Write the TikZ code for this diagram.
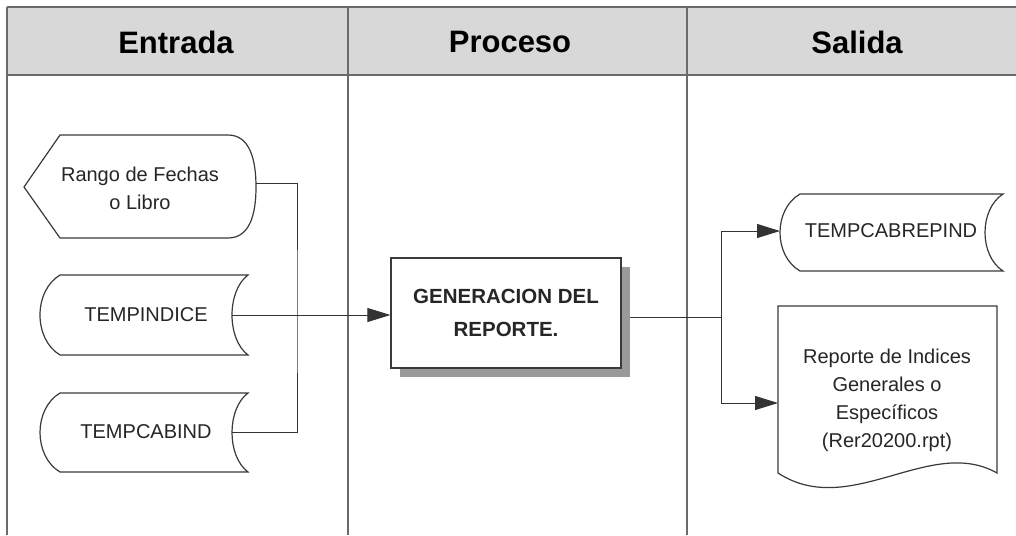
\documentclass[tikz,border=0pt]{standalone}
\usepackage{fontspec}
\setmainfont{Liberation Sans}
\usetikzlibrary{arrows.meta,calc}
\definecolor{hdrgray}{HTML}{D8D8D8}
\definecolor{lanegray}{HTML}{6A6A6A}
\definecolor{shapeline}{HTML}{3A3A3A}
\definecolor{shadowgray}{HTML}{9A9A9A}
\newcommand{\storedpath}[6]{%
  \draw[shp] (#2,#5) -- (#3,#5)
    .. controls ({(4*#4-#3)/3},{#5+0.2*(#6-#5)}) and ({(4*#4-#3)/3},{#6-0.2*(#6-#5)}) .. (#3,#6)
    -- (#2,#6)
    .. controls ({(4*#1-#2)/3},{#6-0.2*(#6-#5)}) and ({(4*#1-#2)/3},{#5+0.2*(#6-#5)}) .. (#2,#5) -- cycle;}
\begin{document}
\begin{tikzpicture}[x=1pt,y=-1pt,
  lane/.style={draw=lanegray,line width=1.4pt},
  hdrline/.style={draw=lanegray,line width=2pt},
  hdr/.style={font=\fontsize{31}{36}\selectfont\bfseries,text=black,inner sep=0pt},
  shp/.style={draw=shapeline,line width=1.2pt,fill=white},
  txt/.style={font=\fontsize{20}{28}\selectfont,align=center,inner sep=0pt,text=black!85},
  btxt/.style={font=\fontsize{20.5}{33}\selectfont\bfseries,align=center,inner sep=0pt,text=black!85},
  conn/.style={draw=black!80,line width=1pt},
  arr/.style={conn,-{Triangle[length=23pt,width=14pt]}}]
\useasboundingbox (0,0) rectangle (1016,535);
\fill[white] (0,0) rectangle (1016,535);
% header band
\fill[hdrgray] (7,7) rectangle (1016,75);
\draw[hdrline] (7,7) -- (1016,7);
\draw[hdrline] (7,75) -- (1016,75);
\draw[lane] (7,7) -- (7,535);
\draw[lane] (348,7) -- (348,535);
\draw[lane] (687,7) -- (687,535);
\node[hdr] (hEntrada) at (176,42) {Entrada};
\node[hdr] (hProceso) at (510,42) {Proceso};
\node[hdr] (hSalida) at (857,42) {Salida};
% Rango de Fechas (display shape)
\draw[shp] (24,187) -- (60,135) -- (228,135)
  .. controls (250,135) and (256,160) .. (256,187)
  .. controls (256,214) and (250,238) .. (228,238) -- (60,238) -- cycle;
\node[txt,minimum width=232pt,minimum height=103pt] (rango) at (140,188) {Rango de Fechas\\o Libro};
% stored data shapes
\storedpath{40}{60}{248}{232}{275}{355}
\node[txt] (tempindice) at (146,315) {TEMPINDICE};
\coordinate (tiout) at (232,315);
\storedpath{40}{60}{248}{232}{393}{472}
\node[txt] (tempcabind) at (146,432) {TEMPCABIND};
\coordinate (tcout) at (232,432);
% process
\fill[shadowgray] (400,267) rectangle (630,377);
\node[draw=shapeline,line width=1.2pt,fill=white,minimum width=230pt,minimum height=110pt,
      btxt] (proc) at (506,313) {GENERACION DEL\\REPORTE.};
% outputs
\storedpath{780}{800}{1003}{985}{194}{271}
\node[txt] (tcrep) at (891,231) {TEMPCABREPIND};
\draw[shp] (778,473) -- (778,306) -- (997,306) -- (997,473)
  .. controls (930,435) and (850,520) .. (778,473) -- cycle;
\node[txt] (doc) at (887,400) {Reporte de Indices\\Generales o\\Específicos\\(Rer20200.rpt)};
\coordinate (docin) at (778,403);
\coordinate (tcrin) at (780,231);
% connectors
\coordinate (jin) at (297,315);
\coordinate (pout) at (630,317);
\coordinate (jout) at (721,317);
\draw[conn] ([yshift=5pt]rango.east) -| (jin) |- (tcout);
\draw[arr] (tiout) -- (tiout -| proc.west);
\draw[conn] (pout) -- (jout);
\draw[arr] (jout) |- (tcrin);
\draw[arr] (jout) |- (docin);
\end{tikzpicture}
\end{document}
